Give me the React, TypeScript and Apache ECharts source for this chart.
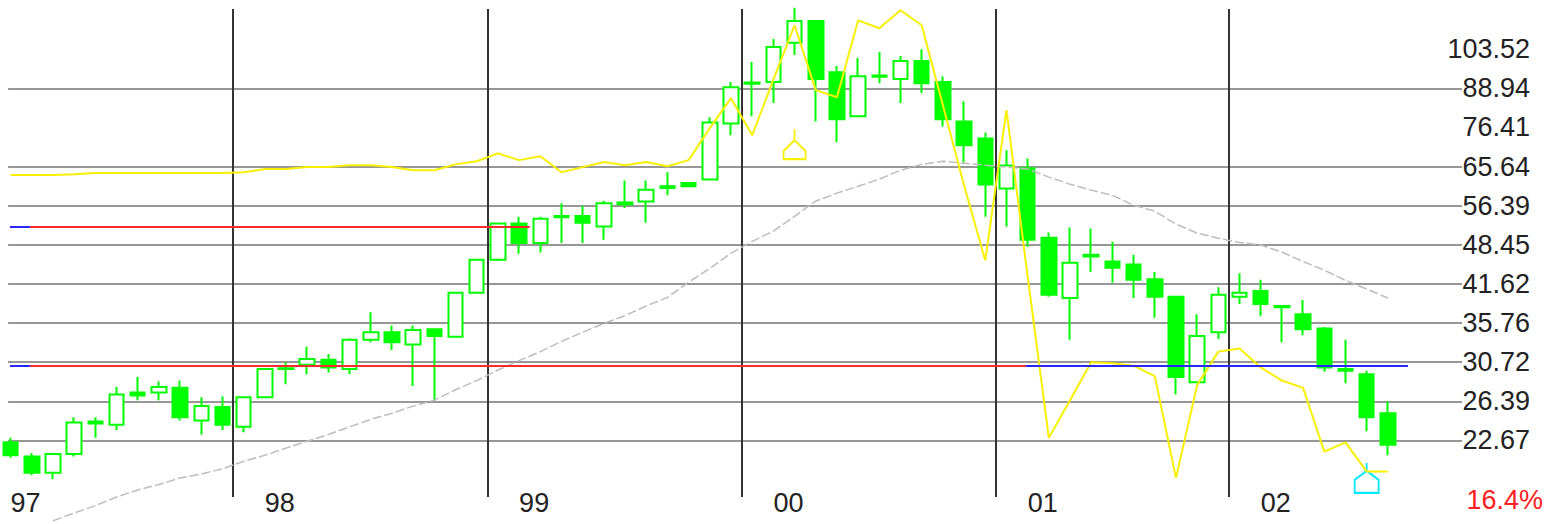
import React, { useEffect, useRef } from 'react';
import * as echarts from 'echarts';

const months = [
  '1997-02', '1997-03', '1997-04', '1997-05', '1997-06', '1997-07', '1997-08', '1997-09', '1997-10', '1997-11', '1997-12',
  '1998-01', '1998-02', '1998-03', '1998-04', '1998-05', '1998-06', '1998-07', '1998-08', '1998-09', '1998-10', '1998-11', '1998-12',
  '1999-01', '1999-02', '1999-03', '1999-04', '1999-05', '1999-06', '1999-07', '1999-08', '1999-09', '1999-10', '1999-11', '1999-12',
  '2000-01', '2000-02', '2000-03', '2000-04', '2000-05', '2000-06', '2000-07', '2000-08', '2000-09', '2000-10', '2000-11', '2000-12',
  '2001-01', '2001-02', '2001-03', '2001-04', '2001-05', '2001-06', '2001-07', '2001-08', '2001-09', '2001-10', '2001-11',
  '2002-01', '2002-02', '2002-03', '2002-04', '2002-05', '2002-06', '2002-07', '2002-08',
  '2002-09', '2002-10', '2002-11',
];

// [open, close, low, high]
const candles = [
  [22.5, 21.4, 21.2, 22.9], [21.3, 20.0, 19.8, 21.6], [20.0, 21.5, 19.5, 21.6], [21.5, 24.3, 21.3, 24.8],
  [24.2, 24.4, 22.9, 24.8], [24.1, 27.1, 23.6, 27.9], [27.3, 27.0, 26.5, 29.0], [27.3, 27.9, 26.5, 28.5],
  [27.8, 24.8, 24.5, 28.6], [24.5, 25.9, 23.2, 26.8], [25.8, 24.1, 23.6, 26.9], [23.9, 26.8, 23.4, 26.8],
  [26.8, 29.9, 26.7, 29.9], [29.9, 30.0, 28.2, 30.7], [30.4, 31.1, 29.3, 32.6], [31.0, 30.1, 29.5, 31.7],
  [29.9, 33.5, 29.3, 33.7], [33.5, 34.5, 33.2, 37.3], [34.5, 33.2, 32.2, 35.4], [32.9, 34.8, 28.0, 35.4],
  [34.9, 34.0, 26.5, 35.0], [33.9, 40.2, 33.9, 40.2], [40.2, 45.7, 40.2, 45.7], [45.7, 52.6, 45.5, 52.6],
  [52.6, 48.8, 46.8, 54.0], [48.8, 53.6, 47.0, 54.0], [53.9, 54.2, 48.8, 56.9], [54.2, 52.8, 48.8, 56.3],
  [52.0, 56.9, 49.4, 57.5], [56.7, 57.1, 55.9, 62.2], [57.3, 60.0, 52.8, 62.2], [60.4, 60.8, 58.7, 64.2],
  [61.6, 60.8, 60.8, 61.6], [62.4, 77.9, 62.2, 79.5], [77.6, 89.3, 74.1, 91.1], [90.5, 91.0, 79.8, 98.5],
  [91.1, 104.4, 84.0, 107.7], [106.1, 115.5, 101.2, 121.6], [115.5, 92.2, 78.2, 115.5], [94.7, 78.9, 72.1, 97.0],
  [79.8, 93.2, 79.5, 100.0], [93.0, 93.5, 90.7, 102.4], [92.2, 98.9, 84.0, 100.8], [98.9, 90.7, 87.3, 103.5],
  [91.1, 78.9, 76.7, 93.2], [78.2, 71.3, 66.7, 84.6], [73.2, 61.2, 54.0, 74.9], [60.3, 65.9, 52.0, 69.9],
  [65.2, 49.4, 48.1, 67.7], [49.8, 39.9, 39.6, 50.8], [39.4, 45.2, 33.5, 51.8], [46.3, 46.6, 43.6, 51.6],
  [45.4, 44.3, 41.8, 49.0], [44.9, 42.3, 39.4, 46.6], [42.4, 39.6, 36.5, 43.6], [39.6, 29.0, 27.1, 39.6],
  [28.4, 34.0, 28.4, 37.0], [34.5, 39.9, 33.6, 41.1], [39.6, 40.2, 38.5, 43.4], [40.5, 38.5, 36.7, 42.3],
  [38.2, 38.0, 33.2, 38.2], [37.0, 34.9, 34.1, 39.1], [35.0, 30.1, 29.6, 35.2], [29.9, 29.7, 28.3, 33.5],
  [29.3, 24.8, 23.5, 29.7], [25.2, 22.3, 21.4, 26.4],
];

const yellowLine = [
  63.5, 63.5, 63.5, 63.7, 64.0, 64.0, 64.0, 64.0, 64.0, 64.0, 64.0,
  64.2, 65.0, 65.0, 65.5, 65.5, 66.0, 66.0, 65.5, 64.7, 64.7, 66.2, 67.0,
  69.1, 67.3, 68.3, 64.2, 65.5, 66.8, 66.0, 66.8, 65.7, 67.3, 76.2, 85.6,
  74.1, 92.0, 113.6, 88.3, 85.9, 115.8, 112.3, 120.4, 113.6, 83.3, 61.0, 45.6,
  81.7, 42.9, 22.9, 26.5, 30.7, 30.6, 30.3, 29.1, 19.6, 28.1, 32.0,
  32.4, 30.1, 28.6, 27.8, 21.7, 22.5, 20.1, 20.1,
];

const grayMA = [
  null, null, 16.6, 17.1, 17.6, 18.2, 18.7, 19.1, 19.6, 19.9, 20.3,
  20.9, 21.4, 22.0, 22.6, 23.2, 23.9, 24.6, 25.2, 25.9, 26.5, 27.6, 28.6,
  29.8, 30.9, 32.0, 33.3, 34.5, 35.7, 36.8, 38.2, 39.5, 41.9, 44.2, 46.9,
  49.1, 51.1, 54.1, 57.4, 59.2, 60.8, 62.5, 64.7, 66.2, 67.0, 66.5, 66.0,
  65.5, 65.0, 63.0, 61.3, 59.9, 58.7, 56.5, 55.2, 52.5, 50.7, 49.7,
  48.9, 48.4, 47.1, 45.4, 43.9, 42.2, 40.8, 39.4,
];

const yTickLabels = ['103.52', '88.94', '76.41', '65.64', '56.39', '48.45', '41.62', '35.76', '30.72', '26.39', '22.67'];
const yGridLabels = ['88.94', '65.64', '56.39', '48.45', '41.62', '35.76', '30.72', '26.39', '22.67'];
const yearLabels = ['97', '98', '99', '00', '01', '02'];
const yearLabelAt = [0, 12, 24, 36, 48, 59];
const yearStartAt = [11, 23, 35, 47, 58];
const upperLevel = 51.9;
const lowerLevel = 30.3;
const changeLabel = '16.4%';
const markerUp = { index: 37, value: 71.6 };
const markerDown = { index: 64, value: 19.6 };

const Y_MIN = 18.2;
const Y_MAX = 121;
const FONT = 'Arial, "Liberation Sans", sans-serif';

export default function App() {
  const ref = useRef<HTMLDivElement>(null);

  useEffect(() => {
    if (!ref.current) return;
    const chart = echarts.init(ref.current, undefined, { renderer: 'svg' });
    const xEnd = months.length - 0.5;
    const xStart = -0.12;

    const gridLines = yTickLabels.map((t) => {
      const hasLine = yGridLabels.includes(t);
      return [
        {
          coord: [xStart, Number(t)],
          lineStyle: { color: hasLine ? '#979797' : 'rgba(0,0,0,0)', width: 2, type: 'solid' },
          label: {
            show: true,
            position: 'end',
            formatter: t,
            align: 'right',
            verticalAlign: 'middle',
            distance: 68,
            fontSize: 27,
            fontFamily: FONT,
            color: '#222',
          },
        },
        { coord: [xEnd, Number(t)] },
      ];
    });

    const yearLines = yearStartAt.map((i) => [
      { coord: [i - 0.5, Y_MAX], lineStyle: { color: '#333', width: 2, type: 'solid' }, label: { show: false } },
      { coord: [i - 0.5, Y_MIN] },
    ]);

    const seg = (a: number, b: number, v: number, color: string) => [
      { coord: [a, v], lineStyle: { color, width: 2, type: 'solid' }, label: { show: false } },
      { coord: [b, v] },
    ];

    const option = {
      animation: false,
      backgroundColor: '#ffffff',
      grid: { left: 0, right: 89, top: 9, bottom: 27, containLabel: false },
      xAxis: [
        {
          type: 'category',
          data: months,
          boundaryGap: true,
          axisLine: { show: false },
          axisTick: { show: false },
          splitLine: { show: false },
          axisLabel: {
            interval: (i: number) => yearLabelAt.includes(i),
            formatter: (_v: string, i: number) => {
              const k = yearLabelAt.indexOf(i);
              return k >= 0 ? yearLabels[k] : '';
            },
            align: 'left',
            verticalAlign: 'middle',
            margin: 6,
            fontSize: 27,
            fontFamily: FONT,
            color: '#222',
          },
        },
        { type: 'value', min: -0.5, max: xEnd, show: false },
      ],
      yAxis: {
        type: 'log',
        logBase: 10,
        min: Y_MIN,
        max: Y_MAX,
        axisLine: { show: false },
        axisTick: { show: false },
        axisLabel: { show: false },
        splitLine: { show: false },
      },
      graphic: [
        {
          type: 'text',
          right: 8,
          top: 486,
          style: { text: changeLabel, fill: '#ff2020', font: `27px ${FONT}` },
        },
      ],
      series: [
        {
          type: 'line',
          xAxisIndex: 1,
          data: [],
          z: 1,
          silent: true,
          markLine: { silent: true, symbol: ['none', 'none'], z: 1, data: [...gridLines, ...yearLines] },
        },
        {
          type: 'candlestick',
          xAxisIndex: 0,
          data: candles,
          barWidth: 15,
          z: 3,
          clip: false,
          silent: true,
          itemStyle: {
            color: '#ffffff',
            color0: '#00ff00',
            borderColor: '#00ff00',
            borderColor0: '#00ff00',
            borderColorDoji: '#00ff00',
            borderWidth: 2,
          },
        },
        {
          type: 'line',
          xAxisIndex: 0,
          data: grayMA,
          symbol: 'none',
          showSymbol: false,
          clip: false,
          z: 4,
          silent: true,
          lineStyle: { color: '#bdbdbd', width: 1.5, type: [9, 3] },
        },
        {
          type: 'line',
          xAxisIndex: 0,
          data: yellowLine,
          symbol: 'none',
          showSymbol: false,
          clip: false,
          z: 5,
          silent: true,
          lineStyle: { color: '#f8f000', width: 2 },
          markPoint: {
            silent: true,
            label: { show: false },
            data: [
              {
                coord: [markerUp.index, markerUp.value],
                symbol: 'path://M11,0 L11,11 M11,11 L0,22 L0,30 L22,30 L22,22 Z',
                symbolSize: [22, 30],
                itemStyle: { color: 'rgba(0,0,0,0)', borderColor: '#f8f000', borderWidth: 2 },
              },
              {
                coord: [markerDown.index, markerDown.value],
                symbol: 'path://M12,0 L12,8 M12,8 L0,17 L0,30 L24,30 L24,17 Z',
                symbolSize: [24, 30],
                itemStyle: { color: 'rgba(0,0,0,0)', borderColor: '#00e8ff', borderWidth: 2 },
              },
            ],
          },
        },
        {
          type: 'line',
          xAxisIndex: 1,
          data: [],
          z: 10,
          silent: true,
          markLine: {
            silent: true,
            symbol: ['none', 'none'],
            z: 10,
            data: [
              seg(-0.03, 0.92, upperLevel, '#2828ff'),
              seg(0.92, 24.5, upperLevel, '#ff2a2a'),
              seg(-0.03, 0.92, lowerLevel, '#2828ff'),
              seg(0.92, 47.92, lowerLevel, '#ff2a2a'),
              seg(47.92, 65.95, lowerLevel, '#2828ff'),
            ],
          },
        },
      ],
    };

    chart.setOption(option as any);
    return () => chart.dispose();
  }, []);

  return (
    <div
      ref={ref}
      style={{ position: 'absolute', left: 0, top: 0, width: 1551, height: 524, background: '#fff' }}
    />
  );
}
